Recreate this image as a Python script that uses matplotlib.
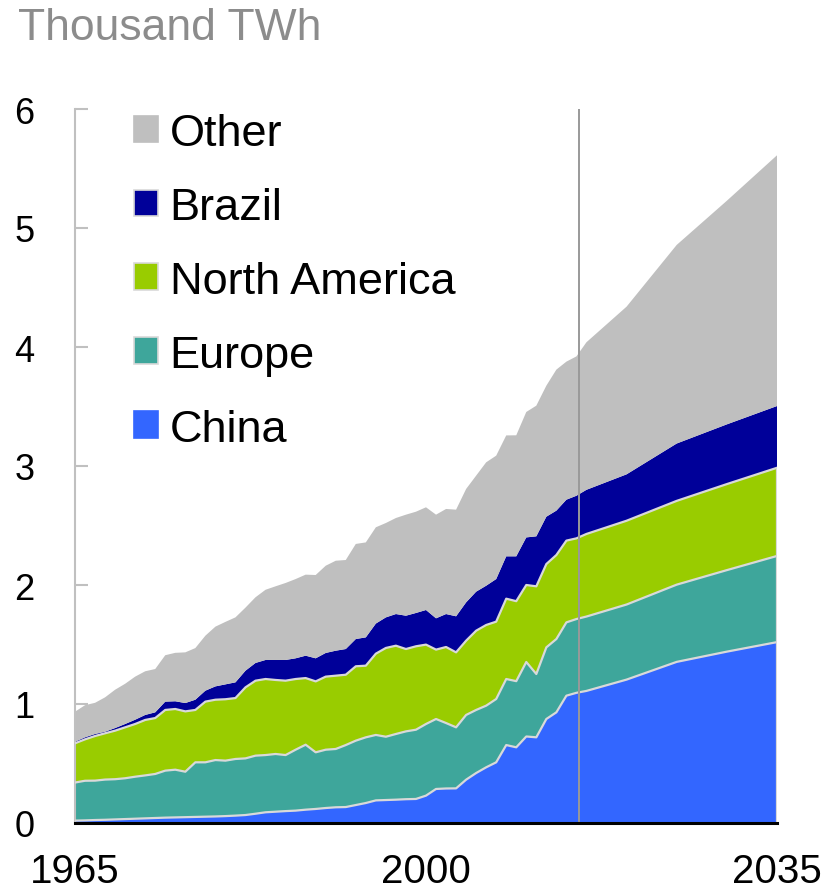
import matplotlib
matplotlib.use("Agg")
import matplotlib.pyplot as plt
from matplotlib.patches import Patch
import numpy as np

plt.rcParams['font.family'] = ['Liberation Sans', 'DejaVu Sans']

years = list(range(1965, 2016)) + [2016, 2020, 2025, 2030, 2035]

china = [0.020, 0.022, 0.025, 0.027, 0.030, 0.033, 0.036, 0.039, 0.042, 0.045,
         0.047, 0.049, 0.051, 0.053, 0.055, 0.058, 0.062, 0.067, 0.078, 0.090,
         0.095, 0.100, 0.104, 0.112, 0.118, 0.126, 0.132, 0.134, 0.151, 0.168,
         0.190, 0.193, 0.196, 0.200, 0.202, 0.230, 0.286, 0.290, 0.291, 0.364,
         0.420, 0.468, 0.510, 0.655, 0.636, 0.727, 0.720, 0.874, 0.930, 1.070,
         1.094,
         1.110, 1.205, 1.354, 1.440, 1.520]

europe = [0.320, 0.333, 0.331, 0.338, 0.338, 0.343, 0.353, 0.361, 0.370, 0.395,
          0.401, 0.382, 0.459, 0.457, 0.474, 0.466, 0.476, 0.476, 0.488, 0.481,
          0.485, 0.471, 0.512, 0.546, 0.476, 0.490, 0.490, 0.521, 0.541, 0.552,
          0.550, 0.532, 0.552, 0.570, 0.582, 0.602, 0.588, 0.550, 0.513, 0.544,
          0.530, 0.518, 0.532, 0.555, 0.556, 0.626, 0.532, 0.602, 0.616, 0.616,
          0.620,
          0.625, 0.631, 0.649, 0.685, 0.724]

north_america = [0.330, 0.348, 0.375, 0.389, 0.408, 0.428, 0.443, 0.466, 0.470, 0.510,
                 0.510, 0.507, 0.440, 0.510, 0.507, 0.516, 0.512, 0.597, 0.630, 0.639,
                 0.622, 0.625, 0.594, 0.560, 0.596, 0.614, 0.616, 0.591, 0.625, 0.602,
                 0.683, 0.746, 0.742, 0.692, 0.701, 0.667, 0.583, 0.639, 0.630, 0.624,
                 0.666, 0.678, 0.650, 0.675, 0.672, 0.647, 0.737, 0.700, 0.706, 0.687,
                 0.678,
                 0.694, 0.704, 0.704, 0.723, 0.741]

brazil = [0.013, 0.017, 0.017, 0.013, 0.022, 0.028, 0.036, 0.042, 0.048, 0.070,
          0.065, 0.070, 0.086, 0.092, 0.112, 0.125, 0.132, 0.140, 0.149, 0.160,
          0.168, 0.174, 0.174, 0.188, 0.194, 0.199, 0.210, 0.216, 0.229, 0.238,
          0.253, 0.257, 0.266, 0.280, 0.280, 0.291, 0.263, 0.277, 0.303, 0.322,
          0.328, 0.330, 0.358, 0.356, 0.377, 0.400, 0.420, 0.398, 0.373, 0.344,
          0.358,
          0.371, 0.390, 0.482, 0.502, 0.519]

other = [0.252, 0.270, 0.262, 0.289, 0.322, 0.338, 0.362, 0.367, 0.364, 0.390,
         0.407, 0.426, 0.434, 0.462, 0.502, 0.525, 0.546, 0.530, 0.552, 0.590,
         0.619, 0.647, 0.666, 0.681, 0.700, 0.733, 0.756, 0.748, 0.799, 0.798,
         0.809, 0.793, 0.807, 0.849, 0.851, 0.863, 0.871, 0.883, 0.896, 0.953,
         0.975, 1.037, 1.037, 1.016, 1.017, 1.054, 1.098, 1.101, 1.185, 1.160,
         1.171,
         1.240, 1.409, 1.669, 1.879, 2.107]

labels = ["China", "Europe", "North America", "Brazil", "Other"]
colors = ["#3366FF", "#3EA69B", "#99CC00", "#000099", "#BFBFBF"]
legend_order = ["Other", "Brazil", "North America", "Europe", "China"]
x_ticks = [1965, 2000, 2035]
y_ticks = [0, 1, 2, 3, 4, 5, 6]
last_history_year = 2015.3

sep_color = "#D9D9D9"

fig = plt.figure(figsize=(8.29, 8.95), dpi=100)
ax = fig.add_axes([75 / 829, 71 / 895, 702 / 829, 714 / 895])

series = [china, europe, north_america, brazil, other]
polys = ax.stackplot(years, *series, colors=colors, linewidth=0)

# light separators between the lower layers
cum = np.cumsum(np.array(series), axis=0)
for i in range(3):
    ax.plot(years, cum[i], color=sep_color, lw=1.6, zorder=3, solid_joinstyle='round')
# right edge light line for the lower stacked layers
ax.vlines(years[-1], 0, cum[2][-1], color=sep_color, lw=1.6, zorder=3)

ax.axvline(last_history_year, color="#999999", lw=1.4, zorder=4)

ax.set_xlim(1965, 2035)
ax.set_ylim(0, 6)
ax.set_xticks(x_ticks)
ax.set_xticklabels([str(t) for t in x_ticks])
ax.set_yticks(y_ticks)
ax.set_yticklabels([str(t) for t in y_ticks])

for s in ["top", "right"]:
    ax.spines[s].set_visible(False)
ax.spines["left"].set_color("#C0C0C0")
ax.spines["left"].set_linewidth(1.5)
ax.spines["bottom"].set_color("black")
ax.spines["bottom"].set_linewidth(2.2)
ax.spines["bottom"].set_zorder(5)

ax.tick_params(axis="y", direction="in", length=9, width=1.5, color="#C0C0C0",
               labelsize=26, pad=29, labelcolor="black")
ax.tick_params(axis="x", length=0, labelsize=29, pad=21, labelcolor="black")

fig.text(18 / 829, 1 - 29 / 895, "Thousand TWh", color="#8C8C8C", fontsize=32,
         ha="left", va="center")

handles = []
for name in legend_order:
    i = labels.index(name)
    ec = sep_color if name in ("Brazil", "North America", "Europe") else colors[i]
    handles.append(Patch(facecolor=colors[i], edgecolor=ec, linewidth=1.2, label=name))

leg = ax.legend(handles=handles, loc="upper left",
                bbox_to_anchor=(134 / 829, 1 - 114 / 895),
                bbox_transform=fig.transFigure,
                frameon=False, fontsize=32.5, handlelength=0.54, handleheight=0.54,
                handletextpad=0.25, labelspacing=0.73, borderpad=0, borderaxespad=0)

fig.savefig("out.png", dpi=100)
